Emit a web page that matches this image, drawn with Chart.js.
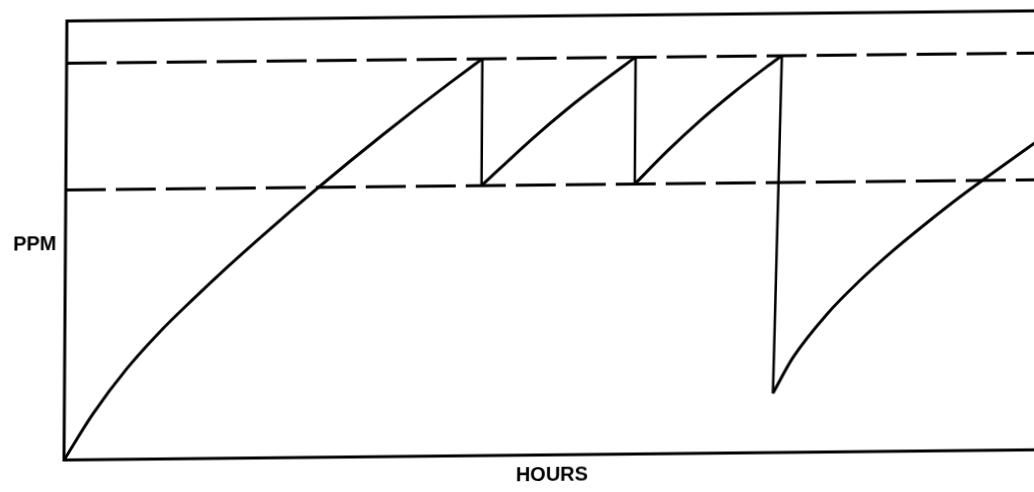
<!DOCTYPE html>
<html>
<head>
<meta charset="utf-8">
<script src="https://cdn.jsdelivr.net/npm/chart.js@4.4.1/dist/chart.umd.min.js"></script>
<style>
  html, body { margin: 0; padding: 0; background: #fff; overflow: hidden; }
  /* the scanned original is slightly skewed */
  #ppmChart { display: block; transform-origin: 64px 460px; transform: skew(-0.38deg, -0.6deg); }
</style>
</head>
<body>
<canvas id="ppmChart" width="1060" height="492"></canvas>
<script>
// levels (dashed limits)
const upperLimit = 90.4;
const lowerLimit = 61.5;

// rising parts of the curve
const rise1Hours = [0, 2.94, 6.39, 9.75, 13.11, 16.57, 19.94, 23.30, 25.74, 29.10, 32.46, 35.93, 39.29, 42.6];
const rise1Ppm   = [0, 10.46, 20.69, 29.0, 36.3, 43.49, 50.16, 56.63, 61.22, 67.37, 73.35, 79.35, 85.0, 90.4];

const rise2Hours = [42.6, 47.84, 51.30, 54.67, 58.3];
const rise2Ppm   = [61.5, 72.2, 78.7, 84.5, 90.4];

const rise3Hours = [58.3, 61.58, 64.94, 68.30, 71.77, 73.29];
const rise3Ppm   = [61.5, 68.87, 75.77, 82.01, 87.95, 90.4];

const rise4Hours = [72.60, 74.63, 78.08, 81.44, 84.80, 88.27, 91.63, 93.67, 100];
const rise4Ppm   = [13.5, 21.6, 31.4, 39.0, 45.7, 52.0, 57.8, 61.1, 71.1];

// where each rise ends it drops to the start of the next one
const dropTo = [
  [rise2Hours[0], rise2Ppm[0]],
  [rise3Hours[0], rise3Ppm[0]],
  [rise4Hours[0], rise4Ppm[0]]
];

const yTickValues = [49.2];
const yTickLabels = ['PPM'];

const rises = [[rise1Hours, rise1Ppm], [rise2Hours, rise2Ppm], [rise3Hours, rise3Ppm], [rise4Hours, rise4Ppm]];

function pts(xs, ys) {
  return xs.map((x, i) => ({ x: x, y: ys[i] }));
}

const datasets = [];

[upperLimit, lowerLimit].forEach(function(level) {
  datasets.push({
    data: [{ x: 0, y: level }, { x: 100, y: level }],
    borderColor: '#000',
    borderWidth: 3,
    borderDash: [40, 10],
    pointRadius: 0
  });
});

rises.forEach(function(r) {
  datasets.push({
    data: pts(r[0], r[1]),
    borderColor: '#000',
    borderWidth: 3,
    cubicInterpolationMode: 'monotone',
    pointRadius: 0
  });
});

dropTo.forEach(function(d, i) {
  const from = rises[i];
  const n = from[0].length - 1;
  datasets.push({
    data: [{ x: from[0][n], y: from[1][n] }, { x: d[0], y: d[1] }],
    borderColor: '#000',
    borderWidth: 2.5,
    pointRadius: 0
  });
});

const framePlugin = {
  id: 'frame',
  afterDraw(chart) {
    const a = chart.chartArea;
    const ctx = chart.ctx;
    ctx.save();
    ctx.strokeStyle = '#000';
    ctx.lineWidth = 3;
    ctx.strokeRect(a.left, a.top, a.right - a.left, a.bottom - a.top);
    ctx.restore();
  }
};

new Chart(document.getElementById('ppmChart'), {
  type: 'line',
  data: { datasets: datasets },
  plugins: [framePlugin],
  options: {
    responsive: false,
    animation: false,
    layout: { padding: { top: 18, right: 20, left: 0, bottom: 0 } },
    plugins: {
      legend: { display: false },
      tooltip: { enabled: false }
    },
    scales: {
      x: {
        type: 'linear',
        min: 0,
        max: 100,
        grid: { display: false, drawTicks: false },
        border: { display: false },
        ticks: { display: false },
        title: {
          display: true,
          text: 'HOURS',
          color: '#000',
          font: { family: 'Liberation Sans', size: 20, weight: 'bold' },
          padding: { top: 8, bottom: 0 }
        },
        afterFit(scale) { scale.height = 32; }
      },
      y: {
        min: 0,
        max: 100,
        grid: { display: false, drawTicks: false },
        border: { display: false },
        afterBuildTicks(scale) {
          scale.ticks = yTickValues.map(v => ({ value: v }));
        },
        ticks: {
          padding: 9,
          color: '#000',
          font: { family: 'Liberation Sans', size: 20, weight: 'bold' },
          callback: function(value, index) { return yTickLabels[index]; }
        },
        afterFit(scale) { scale.width = 64; }
      }
    }
  }
});
</script>
</body>
</html>
